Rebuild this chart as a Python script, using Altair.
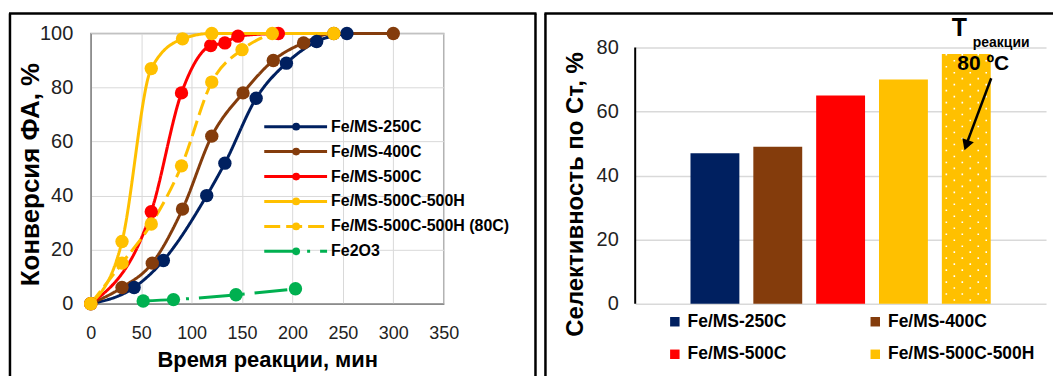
import altair as alt
import pandas as pd

FONT = "Liberation Sans"

# ---------------- left chart data ----------------
series_names = ["Fe/MS-250C", "Fe/MS-400C", "Fe/MS-500C", "Fe/MS-500C-500H",
                "Fe/MS-500C-500H (80C)", "Fe2O3"]
series_colors = ["#002060", "#843C0C", "#FF0000", "#FFC000", "#FFC000", "#00B050"]
series_dashes = [[1, 0], [1, 0], [1, 0], [1, 0], [16, 6], [33, 10, 3, 10]]

t_250 = [0, 43, 72, 115, 133, 164, 194, 224, 254]
c_250 = [0, 6, 16, 40, 52, 76, 89, 97, 100]
t_400 = [0, 31, 61, 91, 120, 151, 181, 211, 241, 300]
c_400 = [0, 6, 15, 35, 62, 78, 90, 96.5, 100, 100]
t_500 = [0, 60, 90, 119, 133, 146, 186]
c_500 = [0, 34, 78, 95.5, 96.5, 99, 100]
t_500h = [0, 31, 60, 91, 120, 241]
c_500h = [0, 23, 87, 98, 100, 100]
t_80c = [0, 31, 60, 90, 120, 150, 180]
c_80c = [0, 15, 29.5, 51, 82, 94, 100]
t_fe2o3 = [52, 82, 144, 203]
c_fe2o3 = [1, 1.5, 3.3, 5.5]

x_ticks = [0, 50, 100, 150, 200, 250, 300, 350]
y_ticks = [0, 20, 40, 60, 80, 100]

# ---------------- right chart data ----------------
bar_cats = ["Fe/MS-250C", "Fe/MS-400C", "Fe/MS-500C", "Fe/MS-500C-500H",
            "Fe/MS-500C-500H (80 °C)"]
bar_vals = [47, 49, 65, 70, 78]
bar_colors = ["#002060", "#843C0C", "#FF0000", "#FFC000", "#FFC000"]
bar_ticks = [0, 20, 40, 60, 80]

# ---------------- build tables ----------------
parts = []
for name, ts, cs in zip(series_names,
                        [t_250, t_400, t_500, t_500h, t_80c, t_fe2o3],
                        [c_250, c_400, c_500, c_500h, c_80c, c_fe2o3]):
    parts.append(pd.DataFrame({"series": name, "time": ts, "conv": cs}))
lines_df = pd.concat(parts, ignore_index=True)
leg_df = pd.DataFrame({"series": series_names, "rank": list(range(len(series_names)))})
bars_df = pd.DataFrame({"cat": bar_cats, "val": bar_vals})
one = pd.DataFrame({"a": [0]})

W1, H = 354, 271
W2 = 412

color_scale = alt.Scale(domain=series_names, range=series_colors)
dash_scale = alt.Scale(domain=series_names, range=series_dashes)

x_enc = alt.X("time:Q", scale=alt.Scale(domain=[0, 350], nice=False),
              axis=alt.Axis(values=x_ticks, title="Время реакции, мин", grid=True,
                            gridColor="#D9D9D9", domainColor="#8C8C8C", domainWidth=1.5,
                            ticks=False, tickSize=0, labelPadding=21, labelFontSize=18,
                            labelFlush=False, labelColor="#222222", labelFont=FONT,
                            titleFont=FONT, titleFontSize=22, titleFontWeight="bold",
                            titleColor="#000000", titleX=W1 / 2, titleY=56,
                            titleBaseline="middle", titleAlign="center"))
y_enc = alt.Y("conv:Q", scale=alt.Scale(domain=[0, 100], nice=False),
              axis=alt.Axis(values=y_ticks, title="Конверсия ФА, %", grid=True,
                            gridColor="#D9D9D9", domainColor="#8C8C8C", domainWidth=1.5,
                            ticks=False, tickSize=0, labelPadding=18, labelFontSize=20,
                            labelFlush=False, labelColor="#222222", labelFont=FONT,
                            titleFont=FONT, titleFontSize=26, titleFontWeight="bold",
                            titleColor="#000000", titleX=-60, titleY=141,
                            titleAngle=270, titleBaseline="middle", titleAlign="center"))

col = alt.Color("series:N", scale=color_scale, legend=None)
dash = alt.StrokeDash("series:N", scale=dash_scale, legend=None)

base = alt.Chart(lines_df)
lines = base.mark_line(interpolate="monotone", strokeWidth=3).encode(
    x=x_enc, y=y_enc, color=col, strokeDash=dash, detail="series:N")
points = base.mark_point(filled=True, size=180, opacity=1).encode(
    x="time:Q", y="conv:Q", color=col)

leg = alt.Chart(leg_df).transform_calculate(py="93.5 + datum.rank * 25")
leg_y = alt.Y("py:Q", scale=None, axis=None)
leg_rule = leg.mark_rule(strokeWidth=3).encode(
    x=alt.value(174), x2=alt.value(237), y=leg_y, color=col, strokeDash=dash)
leg_pt = leg.mark_point(filled=True, size=60, opacity=1).encode(
    x=alt.value(206), y=leg_y, color=col)
leg_txt = leg.mark_text(align="left", baseline="middle", font=FONT, fontSize=16,
                        fontWeight="bold", color="#000000").encode(
    x=alt.value(241), y=leg_y, text="series:N")

frame_l = [
    alt.Chart(one).mark_rule(color="#000000", strokeWidth=2.5).encode(
        x=alt.value(-81), y=alt.value(-20), y2=alt.value(344)),
    alt.Chart(one).mark_rule(color="#000000", strokeWidth=2.5).encode(
        x=alt.value(446), y=alt.value(-20), y2=alt.value(344)),
    alt.Chart(one).mark_rule(color="#000000", strokeWidth=2.5).encode(
        x=alt.value(-82), x2=alt.value(447), y=alt.value(-20)),
]

left = alt.layer(lines, points, leg_rule, leg_pt, leg_txt, *frame_l).properties(
    width=W1, height=H, view=alt.ViewBackground(stroke="#A6A6A6", strokeWidth=1.5))

# ---------------- right chart ----------------
xb = alt.X("cat:N", sort=bar_cats,
           scale=alt.Scale(domain=bar_cats, paddingInner=0.222, paddingOuter=0.88),
           axis=alt.Axis(labels=False, ticks=False, domain=False, title=None, grid=False))
yb = alt.Y("val:Q", scale=alt.Scale(domain=[0, 84.4], nice=False),
           axis=alt.Axis(values=bar_ticks, title="Селективность по Ст, %", grid=True,
                         gridColor="#D9D9D9", gridWidth=1.5, domain=False, ticks=False,
                         tickSize=0, labelPadding=17, labelFontSize=20, labelFont=FONT,
                         labelFlush=False, labelColor="#222222", titleFont=FONT,
                         titleFontSize=24, titleFontWeight="bold", titleColor="#000000",
                         titleX=-60, titleY=161, titleAngle=270,
                         titleBaseline="middle", titleAlign="center"))

bars = alt.Chart(bars_df).mark_bar().encode(
    x=xb, y=yb,
    color=alt.Color("cat:N", scale=alt.Scale(domain=bar_cats, range=bar_colors),
                    legend=alt.Legend(values=bar_cats[:4], orient="none", legendX=31,
                                      legendY=280, columns=2, direction="horizontal",
                                      columnPadding=80, rowPadding=14,
                                      symbolType="square", symbolSize=90,
                                      symbolStrokeWidth=0, labelFont=FONT,
                                      labelFontSize=17.5, labelFontWeight="bold",
                                      labelColor="#000000", title=None, padding=0,
                                      labelOffset=4, labelLimit=0)))

dotted = []
for i, off in enumerate([-20, -12, -4, 4, 12, 20]):
    dotted.append(alt.Chart(bars_df).transform_filter(
        alt.datum.cat == bar_cats[4]).mark_rule(
        color="#FFFFFF", strokeWidth=1.6, strokeDash=[1.6, 10.4],
        strokeDashOffset=6 * (i % 2), xOffset=off).encode(
        x=alt.X("cat:N"), y=alt.Y("val:Q"), y2=alt.datum(0.5)))

axis_line = alt.Chart(one).mark_rule(color="#000000", strokeWidth=2).encode(
    x=alt.value(0), y=alt.datum(0), y2=alt.datum(80))

ann_T = alt.Chart(one).mark_text(font=FONT, fontSize=25, fontWeight="bold", dx=-7,
                                 baseline="middle", color="#000000").encode(
    x=alt.datum(bar_cats[4]), y=alt.datum(86), text=alt.value("T"))
ann_sub = alt.Chart(one).mark_text(font=FONT, fontSize=14, fontWeight="bold", dx=35,
                                   baseline="middle", color="#000000").encode(
    x=alt.datum(bar_cats[4]), y=alt.datum(81.3), text=alt.value("реакции"))
ann_80 = alt.Chart(one).mark_text(font=FONT, fontSize=21, fontWeight="bold", dx=17,
                                  baseline="middle", color="#000000").encode(
    x=alt.datum(bar_cats[4]), y=alt.datum(74.8), text=alt.value("80 ºC"))
arrow = alt.Chart(one).mark_rule(color="#000000", strokeWidth=2.5, xOffset=25,
                                 x2Offset=1).encode(
    x=alt.datum(bar_cats[4]), x2=alt.datum(bar_cats[4]),
    y=alt.datum(70.4), y2=alt.datum(50.5))
arrow_head = alt.Chart(one).mark_point(shape="triangle-up", filled=True, opacity=1,
                                       size=150, angle=200, color="#000000",
                                       xOffset=0).encode(
    x=alt.datum(bar_cats[4]), y=alt.datum(49.5))

frame_r = [
    alt.Chart(one).mark_rule(color="#000000", strokeWidth=2.5).encode(
        x=alt.value(-90), y=alt.value(-20), y2=alt.value(344)),
    alt.Chart(one).mark_rule(color="#000000", strokeWidth=2.5).encode(
        x=alt.value(-91), x2=alt.value(419), y=alt.value(-20)),
]

right = alt.layer(bars, *dotted, axis_line, ann_T, ann_sub, ann_80, arrow, arrow_head,
                  *frame_r).properties(
    width=W2, height=H, view=alt.ViewBackground(stroke="transparent"))

chart = alt.hconcat(left, right, spacing=192, bounds="flush").resolve_scale(
    color="independent", strokeDash="independent"
).resolve_legend(color="independent").properties(
    padding={"left": 7, "top": 11, "right": 0, "bottom": 0}
).configure(font=FONT)

chart.save("out.html", embed_options={"renderer": "svg", "actions": False})
